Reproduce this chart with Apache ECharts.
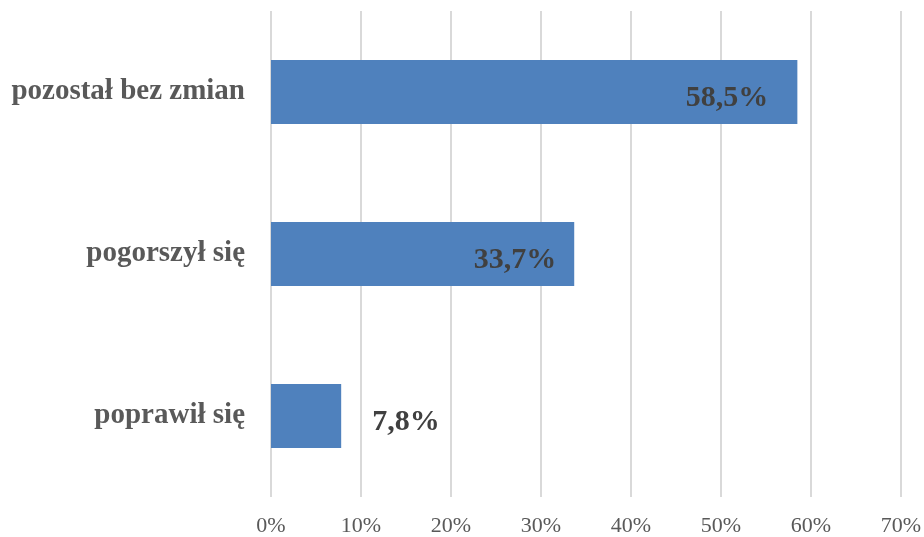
<!DOCTYPE html>
<html>

<head>
    <meta charset="utf-8">
    <title>ECharts</title>
    <script src="https://cdn.jsdelivr.net/npm/echarts@6/dist/echarts.min.js"></script>
    <style>
        html, body { margin: 0; padding: 0; background: #fff; }
    </style>
</head>

<body>
    <div id="main" style="width: 924px;height:537px;"></div>
    <script type="text/javascript">
        // categories (bottom to top, as the axis draws them)
        let categories = ['poprawił się', 'pogorszył się', 'pozostał bez zmian']
        // percentages
        let values = [7.8, 33.7, 58.5]
        // x axis ticks
        let axisMin = 0
        let axisMax = 70
        let axisStep = 10

        let font = '"Liberation Serif", "Times New Roman", serif'

        // label placement per bar: the smallest one sits outside
        let labelPlaces = [
            { position: 'right', distance: 31 },
            { position: 'insideRight', distance: 18 },
            { position: 'insideRight', distance: 29 }
        ]

        let myChart = echarts.init(document.getElementById('main'));

        let option = {
            animation: false,
            grid: {
                left: 271,
                right: 23,
                top: 11,
                bottom: 39
            },
            xAxis: {
                type: 'value',
                min: axisMin,
                max: axisMax,
                interval: axisStep,
                axisLine: { show: false },
                axisTick: { show: false },
                splitLine: {
                    lineStyle: { color: '#d9d9d9', width: 2 }
                },
                axisLabel: {
                    formatter: '{value}%',
                    color: '#595959',
                    fontFamily: font,
                    fontSize: 22,
                    margin: 18
                }
            },
            yAxis: {
                type: 'category',
                data: categories,
                axisLine: { show: false },
                axisTick: { show: false },
                axisLabel: {
                    color: '#595959',
                    fontFamily: font,
                    fontWeight: 'bold',
                    fontSize: 29,
                    margin: 26
                }
            },
            series: [
                {
                    type: 'bar',
                    barWidth: 64,
                    itemStyle: { color: '#4f81bd' },
                    data: values.map(function (v, i) {
                        return {
                            value: v,
                            label: {
                                show: true,
                                position: labelPlaces[i].position,
                                distance: labelPlaces[i].distance,
                                offset: [0, 6],
                                formatter: function (p) {
                                    return p.value.toFixed(1).replace('.', ',') + '%'
                                },
                                color: '#404040',
                                fontFamily: font,
                                fontWeight: 'bold',
                                fontSize: 30
                            }
                        }
                    })
                }
            ]
        };

        myChart.setOption(option);
    </script>
</body>

</html>
